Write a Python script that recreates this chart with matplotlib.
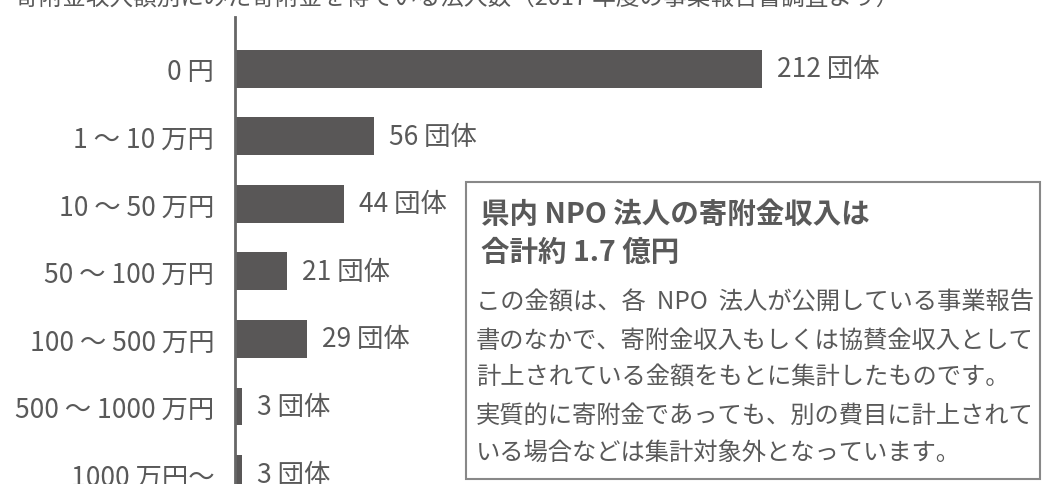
import matplotlib
matplotlib.use("Agg")
import matplotlib.pyplot as plt
from matplotlib.patches import Rectangle

plt.rcParams['font.family'] = ['Noto Sans CJK JP', 'DejaVu Sans']

categories = ["0 円", "1 ～ 10 万円", "10 ～ 50 万円", "50 ～ 100 万円",
              "100 ～ 500 万円", "500 ～ 1000 万円", "1000 万円～"]
counts = [212, 56, 44, 21, 29, 3, 3]
unit = "団体"

title_text = "寄附金収入額別にみた寄附金を得ている法人数（2017 年度の事業報告書調査より）"
box_title = "県内 NPO 法人の寄附金収入は\n合計約 1.7 億円"
box_lines = [
    "この金額は、各  NPO  法人が公開している事業報告",
    "書のなかで、寄附金収入もしくは協賛金収入として",
    "計上されている金額をもとに集計したものです。",
    "実質的に寄附金であっても、別の費目に計上されて",
    "いる場合などは集計対象外となっています。",
]

W, H = 1046, 485
fig = plt.figure(figsize=(W / 100, H / 100), dpi=100)
ax = fig.add_axes([235 / W, 0, 1 - 235 / W, 1 - 18 / H])

bar_color = "#595757"
text_color = "#595959"

ypos = list(range(len(categories)))
ax.barh(ypos, counts, height=0.56, color=bar_color, edgecolor="none")
ax.set_ylim(6.147, -0.765)
ax.set_xlim(0, 326)

for y, v in zip(ypos, counts):
    ax.text(v + 6, y, f"{v} {unit}", va="center", ha="left",
            fontsize=19, color=text_color)

ax.set_yticks(ypos)
ax.set_yticklabels(categories, fontsize=19, color=text_color)
ax.tick_params(axis="y", length=0, pad=15)
ax.set_xticks([])
for s in ["top", "right", "bottom"]:
    ax.spines[s].set_visible(False)
ax.spines["left"].set_color("#666666")
ax.spines["left"].set_linewidth(2)

fig.text(15 / W, 1 + 2 / H, title_text, fontsize=17, color=text_color,
         va="center", ha="left")

# annotation box
bx0, by0, bx1, by1 = 466, 183, 1040, 480
fig.patches.append(Rectangle((bx0 / W, 1 - by1 / H), (bx1 - bx0) / W, (by1 - by0) / H,
                             transform=fig.transFigure, facecolor="white",
                             edgecolor="#888888", linewidth=1.5, zorder=5))
fig.text(481 / W, 1 - 201 / H, box_title, fontsize=20.5, fontweight="bold",
         color=text_color, va="top", ha="left", linespacing=1.45, zorder=6)
for i, line in enumerate(box_lines):
    fig.text(476 / W, 1 - (303 + i * 37.5) / H, line, fontsize=17.5,
             color=text_color, va="center", ha="left", zorder=6)

fig.savefig("out.png", dpi=100)
